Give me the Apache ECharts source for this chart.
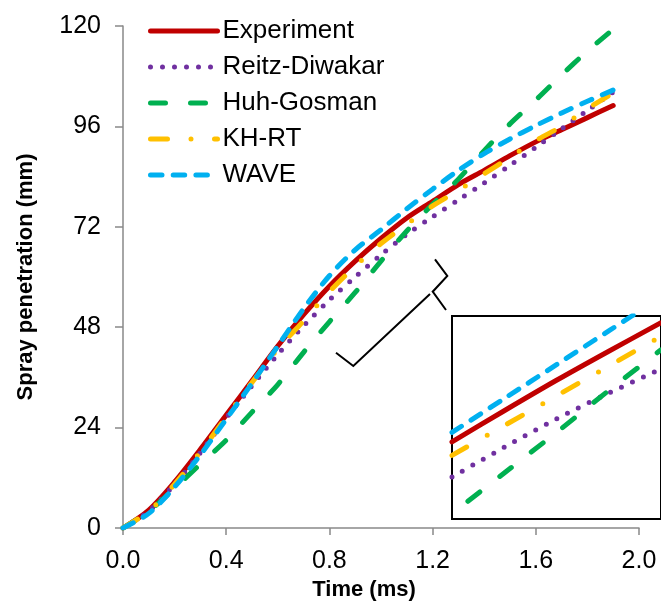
<!DOCTYPE html>
<html>
<head>
<meta charset="utf-8">
<script src="https://cdn.jsdelivr.net/npm/echarts@6/dist/echarts.min.js"></script>
<style>
html,body{margin:0;padding:0;background:#fff;}
#chart{width:661px;height:609px;}
</style>
</head>
<body>
<div id="chart"></div>
<script>
// ---- Main chart data (time in ms, penetration in mm) ----
const time = [0, 0.1, 0.2, 0.3, 0.4, 0.5, 0.6, 0.7, 0.8, 0.9, 1.0, 1.1, 1.2, 1.3, 1.4, 1.5, 1.6, 1.7, 1.8, 1.9];
const experiment   = [0, 4.3, 11, 18.8, 27, 35.2, 43.5, 51, 57.8, 63.8, 69.2, 74.1, 78.1, 82.1, 85.5, 89, 92.3, 95.2, 98.1, 101];
const reitzDiwakar = [0, 4, 10.5, 18, 26.3, 34, 41.5, 48.3, 54.5, 60, 65.3, 70.2, 74.4, 78.4, 82.5, 86.7, 91, 95.4, 99.8, 104.2];
const huhGosman    = [0, 4, 9.5, 15.3, 21, 27.7, 34.3, 42, 49.3, 56.3, 63.8, 71, 77.4, 83.4, 90.2, 96.6, 102.3, 108.3, 114, 119.2];
const khRt         = [0, 4, 10.5, 18.2, 26.5, 34.8, 42.8, 49.5, 56.5, 62.6, 68, 72.6, 77, 80.7, 84.7, 88.6, 92.6, 96, 100.2, 104];
const wave         = [0, 3.5, 9.8, 17.5, 26, 34.6, 43.5, 52.4, 60.3, 66.5, 71.3, 76.3, 81, 85.5, 89.5, 93, 96.2, 99.2, 102, 104.7];

// ---- Inset (magnified view) data ----
const insetTime  = [0.9, 0.95, 1.0, 1.05, 1.1];
const insetExp   = [65.7, 68.0, 70.25, 72.4, 74.5];
const insetReitz = [63.1, 65.3, 67.4, 69.3, 71.1];
const insetHuh   = [60.4, 63.4, 66.4, 69.5, 72.5];
const insetKhRt  = [64.7, 66.9, 69.1, 71.3, 73.5];
const insetWave  = [66.4, 68.9, 71.4, 73.9, 76.4];

// ---- Axis ticks ----
const xTicks = { min: 0, max: 2, interval: 0.4 };
const yTicks = { min: 0, max: 120, interval: 24 };

const seriesNames = ['Experiment', 'Reitz-Diwakar', 'Huh-Gosman', 'KH-RT', 'WAVE'];
const mainData  = [experiment, reitzDiwakar, huhGosman, khRt, wave];
const insetData = [insetExp, insetReitz, insetHuh, insetKhRt, insetWave];

const styles = [
  { color: '#C00000', type: 'solid' },
  { color: '#7030A0', type: [0, 12] },
  { color: '#00B050', type: [15, 25] },
  { color: '#FFC000', type: [17, 23.5, 0, 23.5] },
  { color: '#00B0F0', type: [11.5, 11.2] }
];
const insetOffsets = [0, 0, 19.7, 0, 0];

const FONT = "'Liberation Sans', Arial, sans-serif";
const AXIS_GRAY = '#898989';

function pairs(xs, ys) { return xs.map((x, i) => [x, ys[i]]); }

const series = [];
seriesNames.forEach((name, i) => {
  series.push({
    name: name, type: 'line', xAxisIndex: 0, yAxisIndex: 0,
    data: pairs(time, mainData[i]),
    symbol: 'none', smooth: 0.3,
    lineStyle: { color: styles[i].color, width: 5, type: styles[i].type, cap: 'round', join: 'round' },
    itemStyle: { color: styles[i].color },
    z: 2 + i
  });
});
seriesNames.forEach((name, i) => {
  series.push({
    name: name, type: 'line', xAxisIndex: 1, yAxisIndex: 1,
    data: pairs(insetTime, insetData[i]),
    symbol: 'none', smooth: 0.3, clip: true,
    lineStyle: { color: styles[i].color, width: 5, type: styles[i].type, cap: 'round', join: 'round', dashOffset: insetOffsets[i] },
    itemStyle: { color: styles[i].color },
    z: 12 + i
  });
});

const chart = echarts.init(document.getElementById('chart'), null, { renderer: 'canvas' });
chart.setOption({
  animation: false,
  backgroundColor: '#fff',
  textStyle: { fontFamily: FONT },
  legend: {
    data: seriesNames,
    orient: 'vertical',
    left: 143, top: 13,
    itemWidth: 67, itemHeight: 14, itemGap: 10, itemTextGap: 7,
    textStyle: { fontSize: 26, color: '#000', fontFamily: FONT },
    lineStyle: { width: 5 },
    itemStyle: { opacity: 0 }
  },
  grid: [
    { left: 123, top: 26, width: 516, height: 502, containLabel: false },
    { left: 452, top: 316, width: 240, height: 203, show: true, borderColor: '#000', borderWidth: 2, backgroundColor: '#fff', z: 10 }
  ],
  xAxis: [
    {
      type: 'value', gridIndex: 0, min: xTicks.min, max: xTicks.max, interval: xTicks.interval,
      axisLine: { show: true, lineStyle: { color: AXIS_GRAY, width: 1.5 } },
      axisTick: { show: true, length: 7, lineStyle: { color: AXIS_GRAY, width: 1.5 } },
      axisLabel: { fontSize: 25, color: '#000', margin: 21, fontFamily: FONT, formatter: v => v.toFixed(1) },
      splitLine: { show: false },
      name: 'Time (ms)', nameLocation: 'middle', nameGap: 50,
      nameTextStyle: { fontSize: 22, fontWeight: 'bold', color: '#000', fontFamily: FONT, padding: [0, 34, 0, 0] }
    },
    { type: 'value', gridIndex: 1, min: 0.9, max: 1.1, show: false, splitLine: { show: false } }
  ],
  yAxis: [
    {
      type: 'value', gridIndex: 0, min: yTicks.min, max: yTicks.max, interval: yTicks.interval,
      axisLine: { show: true, lineStyle: { color: AXIS_GRAY, width: 1.5 } },
      axisTick: { show: true, length: 8, lineStyle: { color: AXIS_GRAY, width: 1.5 } },
      axisLabel: { fontSize: 25, color: '#000', margin: 22, fontFamily: FONT },
      splitLine: { show: false },
      name: 'Spray penetration (mm)', nameLocation: 'middle', nameGap: 86,
      nameTextStyle: { fontSize: 22, fontWeight: 'bold', color: '#000', fontFamily: FONT }
    },
    { type: 'value', gridIndex: 1, min: 60, max: 75, show: false, splitLine: { show: false } }
  ],
  series: series,
  graphic: [
    { type: 'polyline', z: 50, shape: { points: [[336, 352.7], [353.3, 366], [430, 294]] },
      style: { stroke: '#000', lineWidth: 2, fill: null } },
    { type: 'polyline', z: 50, shape: { points: [[435, 259.3], [447.3, 276], [432.7, 291.7], [446, 310]] },
      style: { stroke: '#000', lineWidth: 2, fill: null } }
  ]
});
</script>
</body>
</html>
